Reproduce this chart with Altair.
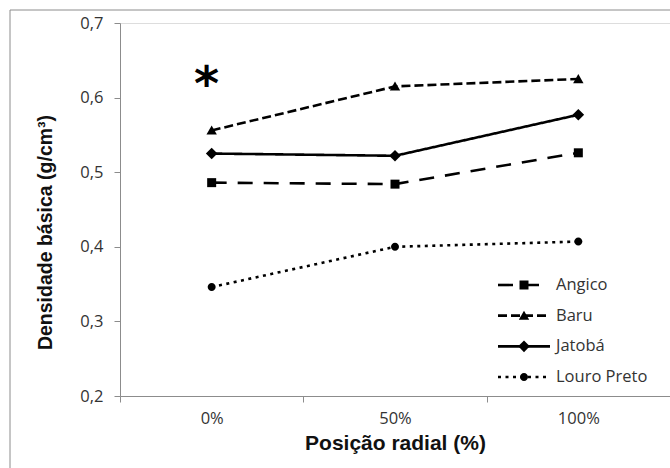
import altair as alt
import pandas as pd

positions = ["0%", "50%", "100%"]
series = ["Angico", "Baru", "Jatobá", "Louro Preto"]
angico = [0.486, 0.484, 0.526]
baru = [0.556, 0.615, 0.625]
jatoba = [0.525, 0.522, 0.577]
louro = [0.346, 0.400, 0.407]
y_ticks = [0.2, 0.3, 0.4, 0.5, 0.6, 0.7]
annot_pos = ["0%"]
annot_val = [0.597]
annot_txt = ["*"]

values = {"Angico": angico, "Baru": baru, "Jatobá": jatoba, "Louro Preto": louro}
rows = []
for s in series:
    for p, v in zip(positions, values[s]):
        rows.append({"pos": p, "val": v, "series": s})
df = pd.DataFrame(rows)
ann = pd.DataFrame({"pos": annot_pos, "val": annot_val, "txt": annot_txt})
leg_df = pd.DataFrame({"series": series})

# marker paths (unit coordinates, scaled by sqrt(size)/2)
markers = [
    "M-0.45,-0.45H0.45V0.45H-0.45Z",
    "M0,-0.5L0.52,0.42H-0.52Z",
    "M0,-0.58L0.58,0L0,0.58L-0.58,0Z",
    "M-0.4,0A0.4,0.4 0 1,0 0.4,0A0.4,0.4 0 1,0 -0.4,0Z",
]
dashes = [[15, 11], [9, 4], [1, 0], [3, 4.5]]

font = "Open Sans"
bold = "Liberation Sans"
gray = "#8c8c8c"
fs = 16.5

dash_scale = alt.Scale(domain=series, range=dashes)
shape_scale = alt.Scale(domain=series, range=markers)

x_enc = alt.X(
    "pos:N", sort=positions,
    scale=alt.Scale(type="band", paddingInner=0, paddingOuter=0, domain=positions),
    axis=alt.Axis(title="Posição radial (%)", tickBand="extent", labelAngle=0,
                  domainColor=gray, tickColor=gray, tickSize=6, labelPadding=8,
                  labelFont=font, labelFontSize=fs, labelColor="#333333",
                  titleFont=bold, titleFontSize=21, titleFontWeight="bold",
                  titleColor="#111111", titlePadding=6),
)
y_enc = alt.Y(
    "val:Q",
    scale=alt.Scale(domain=[0.2, 0.7], nice=False, zero=False),
    axis=alt.Axis(title="Densidade básica (g/cm³)", values=y_ticks, grid=False,
                  labelExpr="replace(format(datum.value, '.1f'), '.', ',')",
                  domainColor=gray, tickColor=gray, tickSize=6, labelPadding=11,
                  labelFont=font, labelFontSize=fs, labelColor="#333333",
                  titleFont=bold, titleFontSize=19.5, titleFontWeight="bold",
                  titleColor="#111111", titlePadding=24, titleY=209),
)

base = alt.Chart(df)
lines = base.mark_line(color="black", strokeWidth=2.6).encode(
    x=x_enc, y=y_enc, detail="series:N",
    strokeDash=alt.StrokeDash("series:N", scale=dash_scale, legend=None),
)
points = base.mark_point(filled=True, color="black", size=400, opacity=1).encode(
    x=x_enc, y=y_enc,
    shape=alt.Shape("series:N", scale=shape_scale, legend=None),
)
star = alt.Chart(ann).mark_text(font="DejaVu Sans", fontSize=48, fontWeight="bold",
                                baseline="alphabetic", dx=-5, color="black").encode(
    x=alt.X("pos:N", sort=positions), y="val:Q", text="txt:N"
)
main = alt.layer(lines, points, star)

# manual legend
y_leg = alt.Y("series:N", sort=series,
              scale=alt.Scale(type="point", domain=series, range=[262, 354], padding=0),
              axis=None)
lbase = alt.Chart(leg_df)
leg_lines = lbase.mark_rule(color="black", strokeWidth=2.6).encode(
    x=alt.value(378), x2=alt.value(430), y=y_leg,
    strokeDash=alt.StrokeDash("series:N", scale=dash_scale, legend=None),
)
leg_points = lbase.mark_point(filled=True, color="black", size=400, opacity=1).encode(
    x=alt.value(404), y=y_leg,
    shape=alt.Shape("series:N", scale=shape_scale, legend=None),
)
leg_text = lbase.mark_text(align="left", baseline="middle", font=font, fontSize=fs,
                           color="#333333").encode(
    x=alt.value(436), y=y_leg, text="series:N"
)
legend = alt.layer(leg_lines, leg_points, leg_text)

one = pd.DataFrame({"a": [0]})
frame_left = alt.Chart(one).mark_rule(color=gray, strokeWidth=1).encode(
    x=alt.value(-110), y=alt.value(-13), y2=alt.value(460)
)
frame_top = alt.Chart(one).mark_rule(color=gray, strokeWidth=1).encode(
    x=alt.value(-110), x2=alt.value(560), y=alt.value(-13)
)

chart = alt.layer(frame_left, frame_top, main, legend).resolve_scale(
    y="independent"
).properties(
    width=550, height=373,
    autosize=alt.AutoSizeParams(type="none"),
    padding={"left": 120, "top": 23, "right": 0, "bottom": 72},
).configure_view(stroke=None).configure(background="white")

chart.save("out.html", embed_options={"renderer": "svg", "actions": False})
